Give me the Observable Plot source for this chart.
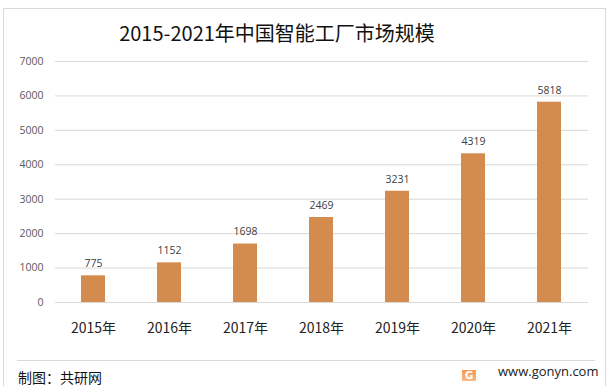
<!DOCTYPE html>
<html>
<head>
<meta charset="utf-8">
<script src="https://cdn.jsdelivr.net/npm/d3@7"></script>
<script src="https://cdn.jsdelivr.net/npm/@observablehq/plot@0.6"></script>
<style>
  html, body { margin: 0; padding: 0; background: #fff; }
  #wrap { position: relative; width: 613px; height: 386px; overflow: hidden; background: #fff; }
  #frame { position: absolute; left: 3px; top: 8px; width: 601px; height: 400px; border: 1px solid #d9d9d9; border-bottom: none; }
  #title { position: absolute; left: 0; top: 22px; width: 554px; text-align: center; font: 20px/22px "Noto Sans CJK SC", sans-serif; color: #111; white-space: nowrap; }
  #chart { position: absolute; left: 0; top: 0; }
  #sep { position: absolute; left: 17px; top: 360px; width: 578px; height: 0; border-top: 1px solid #d9d9d9; }
  #src { position: absolute; left: 18px; top: 369px; font: 14px/16px "Noto Sans CJK SC", sans-serif; color: #111; white-space: nowrap; }
  #site { position: absolute; left: 498px; top: 363px; font: 13px/16px "Open Sans", sans-serif; color: #222; white-space: nowrap; }
  #logo { position: absolute; left: 462px; top: 370px; width: 14px; height: 11px; background: linear-gradient(180deg, #f39a52, #f6b98a); color: #fff; font: bold 10px/11px "DejaVu Sans", sans-serif; text-align: center; }
</style>
</head>
<body>
<div id="wrap">
  <div id="frame"></div>
  <div id="chart"></div>
  <div id="title">2015-2021年中国智能工厂市场规模</div>
  <div id="sep"></div>
  <div id="src">制图：共研网</div>
  <div id="logo">G</div>
  <div id="site">www.gonyn.com</div>
</div>
<script>
const years = ["2015年", "2016年", "2017年", "2018年", "2019年", "2020年", "2021年"];
const values = [775, 1152, 1698, 2469, 3231, 4319, 5818];
const yTicks = [0, 1000, 2000, 3000, 4000, 5000, 6000, 7000];

const data = years.map((y, i) => ({year: y, value: values[i]}));

const chart = Plot.plot({
  width: 613,
  height: 345,
  marginTop: 61,
  marginBottom: 43,
  marginLeft: 55,
  marginRight: 25,
  style: {background: "transparent", overflow: "visible"},
  x: {domain: years, paddingInner: 0.68, paddingOuter: 0.34, label: null},
  y: {domain: [0, 7000], label: null},
  marks: [
    Plot.ruleY(yTicks, {stroke: "#d9d9d9", strokeWidth: 1}),
    Plot.barY(data, {x: "year", y: "value", fill: "#d38c4e"}),
    Plot.text(data, {x: "year", y: "value", text: d => String(d.value), dy: -12, fill: "#404040", fontSize: 10.5, fontFamily: "Open Sans, sans-serif"}),
    Plot.axisY({ticks: yTicks, tickSize: 0, tickPadding: 12, tickFormat: d => String(d), fontSize: 10.5, fontFamily: "Open Sans, sans-serif", fill: "#595959", label: null}),
    Plot.axisX({tickSize: 0, tickPadding: 21, fontSize: 14, fontFamily: "Noto Sans CJK SC, sans-serif", fill: "#222", label: null})
  ]
});
document.getElementById("chart").appendChild(chart);
</script>
</body>
</html>
